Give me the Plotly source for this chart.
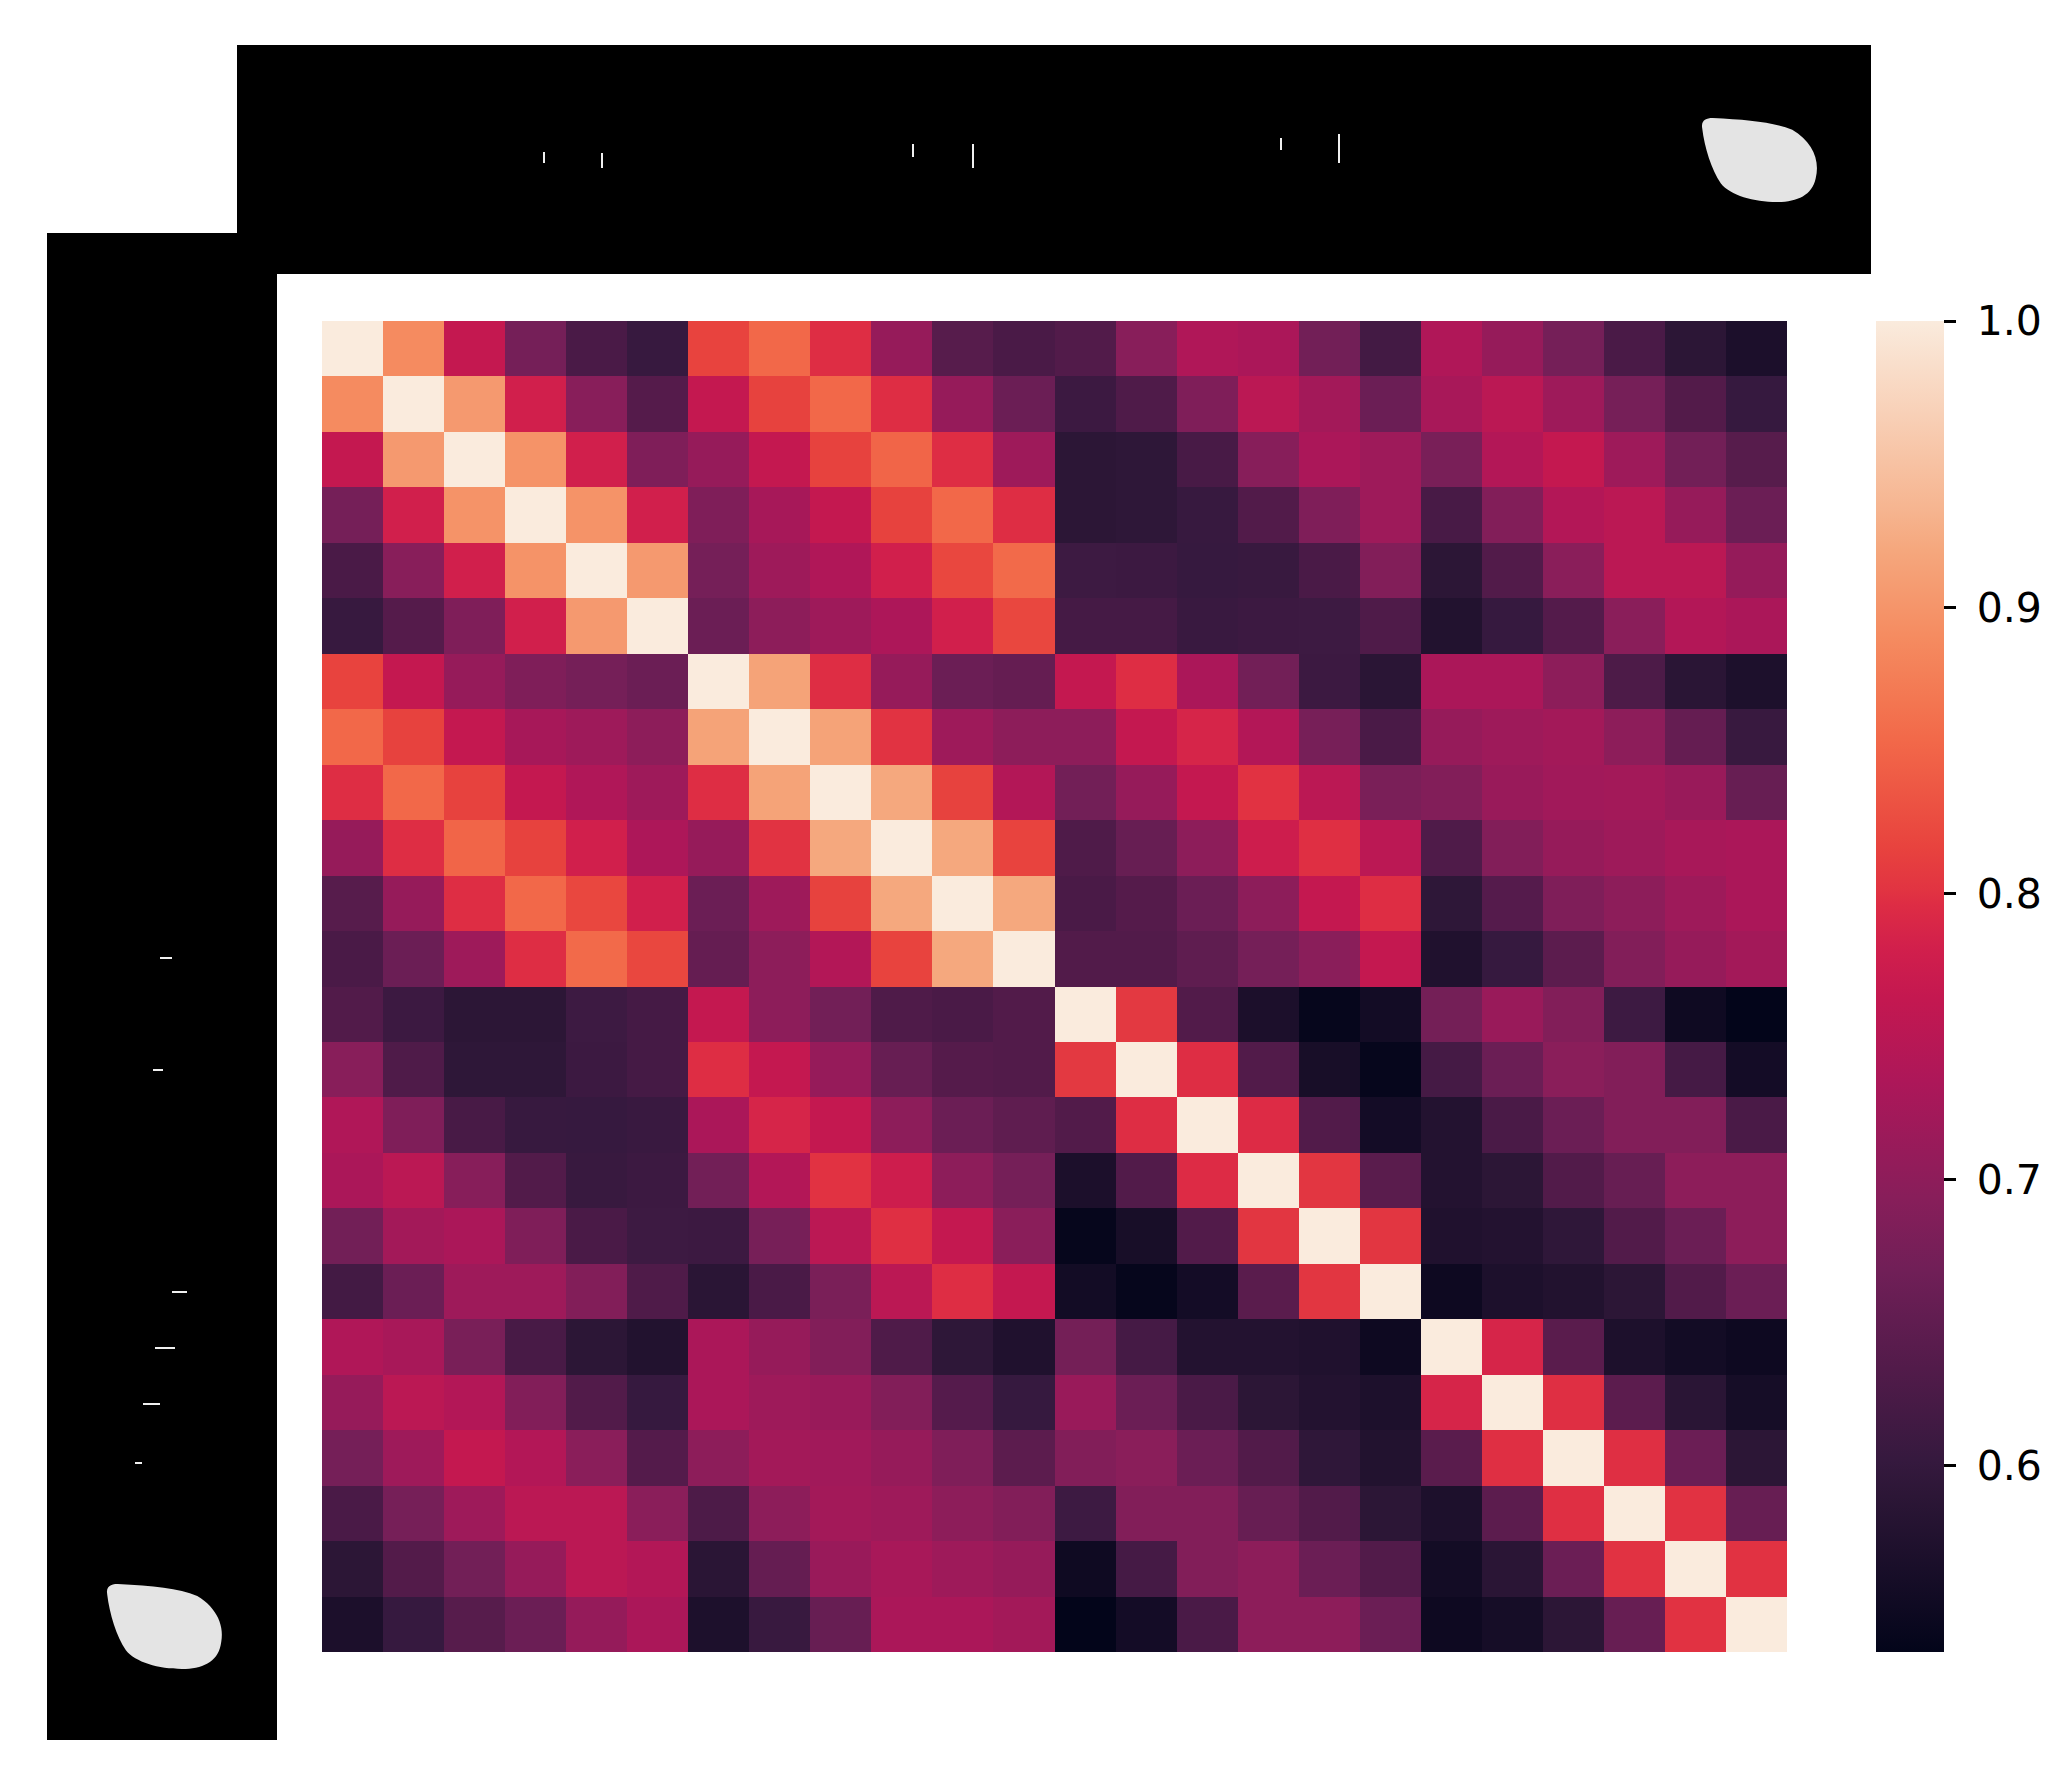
import numpy as np
import plotly.graph_objects as go

W, H = 2069, 1788

# Upper-triangle correlation values (row i, columns i+1 .. 23)
r00 = [0.889, 0.764, 0.673, 0.625, 0.604, 0.816, 0.853, 0.797, 0.709, 0.640, 0.625, 0.634, 0.694, 0.738, 0.732, 0.670, 0.617, 0.738, 0.709, 0.673, 0.625, 0.589, 0.568]
r01 = [0.905, 0.781, 0.694, 0.637, 0.764, 0.815, 0.853, 0.797, 0.709, 0.662, 0.609, 0.631, 0.684, 0.752, 0.724, 0.662, 0.729, 0.752, 0.718, 0.675, 0.635, 0.603]
r02 = [0.898, 0.781, 0.684, 0.709, 0.764, 0.815, 0.850, 0.797, 0.718, 0.589, 0.592, 0.623, 0.693, 0.732, 0.718, 0.678, 0.742, 0.764, 0.718, 0.670, 0.640]
r03 = [0.898, 0.781, 0.684, 0.728, 0.764, 0.815, 0.853, 0.797, 0.589, 0.592, 0.604, 0.634, 0.684, 0.718, 0.623, 0.687, 0.742, 0.752, 0.709, 0.662]
r04 = [0.905, 0.673, 0.718, 0.738, 0.781, 0.820, 0.855, 0.611, 0.609, 0.603, 0.605, 0.625, 0.687, 0.589, 0.634, 0.696, 0.752, 0.752, 0.708]
r05 = [0.662, 0.699, 0.718, 0.734, 0.781, 0.820, 0.620, 0.620, 0.606, 0.609, 0.611, 0.631, 0.576, 0.603, 0.636, 0.696, 0.742, 0.732]
r06 = [0.915, 0.797, 0.709, 0.662, 0.655, 0.764, 0.797, 0.732, 0.670, 0.609, 0.587, 0.732, 0.732, 0.699, 0.628, 0.587, 0.570]
r07 = [0.915, 0.801, 0.718, 0.699, 0.700, 0.764, 0.787, 0.742, 0.676, 0.625, 0.709, 0.718, 0.724, 0.700, 0.655, 0.605]
r08 = [0.921, 0.815, 0.742, 0.670, 0.709, 0.764, 0.800, 0.752, 0.679, 0.687, 0.713, 0.721, 0.724, 0.713, 0.658]
r09 = [0.921, 0.816, 0.631, 0.658, 0.700, 0.775, 0.798, 0.752, 0.631, 0.687, 0.709, 0.718, 0.729, 0.732]
r10 = [0.921, 0.625, 0.637, 0.662, 0.700, 0.764, 0.797, 0.592, 0.638, 0.684, 0.700, 0.718, 0.732]
r11 = [0.634, 0.634, 0.649, 0.673, 0.696, 0.764, 0.574, 0.603, 0.645, 0.687, 0.709, 0.724]
r12 = [0.806, 0.634, 0.568, 0.539, 0.556, 0.672, 0.713, 0.687, 0.611, 0.551, 0.535]
r13 = [0.797, 0.634, 0.563, 0.539, 0.620, 0.662, 0.696, 0.687, 0.620, 0.558]
r14 = [0.795, 0.634, 0.558, 0.578, 0.625, 0.662, 0.687, 0.687, 0.625]
r15 = [0.803, 0.643, 0.578, 0.589, 0.634, 0.658, 0.700, 0.700]
r16 = [0.803, 0.574, 0.578, 0.594, 0.634, 0.662, 0.700]
r17 = [0.549, 0.570, 0.576, 0.589, 0.634, 0.662]
r18 = [0.787, 0.643, 0.570, 0.556, 0.549]
r19 = [0.798, 0.645, 0.587, 0.560]
r20 = [0.798, 0.662, 0.589]
r21 = [0.800, 0.658]
r22 = [0.800]
upper_rows = [r00, r01, r02, r03, r04, r05, r06, r07, r08, r09, r10, r11,
              r12, r13, r14, r15, r16, r17, r18, r19, r20, r21, r22]

cbar_ticks = [0.6, 0.7, 0.8, 0.9, 1.0]
zmin, zmax = 0.535, 1.0

n = len(upper_rows) + 1
Z = np.eye(n)
for i, row in enumerate(upper_rows):
    for k, v in enumerate(row):
        j = i + 1 + k
        Z[i, j] = v
        Z[j, i] = v

rocket = [
    [0.0, "#03051a"], [0.117, "#2c1636"], [0.143, "#35193e"], [0.213, "#521b4a"],
    [0.286, "#701f57"], [0.342, "#881e5a"], [0.375, "#961b5a"], [0.429, "#ad1759"],
    [0.492, "#c41850"], [0.528, "#d11f4c"], [0.563, "#de2d44"], [0.571, "#e13342"],
    [0.605, "#e8433e"], [0.684, "#f26849"], [0.714, "#f37651"], [0.762, "#f58b60"],
    [0.83, "#f5a87e"], [0.857, "#f6b48f"], [1.0, "#faebdd"],
]

def px(x):
    return x / W

def py(y):
    return 1 - y / H

hm_l, hm_r, hm_t, hm_b = 322, 1787, 321, 1652

fig = go.Figure(go.Heatmap(
    z=Z, x=list(range(n)), y=list(range(n)),
    colorscale=rocket, zmin=zmin, zmax=zmax,
    colorbar=dict(
        x=px(1876), xanchor="left", y=py(hm_t), yanchor="top",
        xpad=0, ypad=0,
        thickness=68, thicknessmode="pixels", len=hm_b - hm_t, lenmode="pixels",
        outlinewidth=0, ticks="outside", ticklen=12, tickwidth=3, tickcolor="black",
        tickvals=cbar_ticks, ticktext=[f" {t:.1f}" for t in cbar_ticks],
        tickfont=dict(family="DejaVu Sans", size=41, color="black"),
    ),
    hoverinfo="skip",
))

shapes = []
# black panels
shapes.append(dict(type="rect", xref="paper", yref="paper", x0=px(237), x1=px(1871),
                   y0=py(274), y1=py(45), fillcolor="black", line=dict(width=0), layer="above"))
shapes.append(dict(type="rect", xref="paper", yref="paper", x0=px(47), x1=px(277),
                   y0=py(1740), y1=py(233), fillcolor="black", line=dict(width=0), layer="above"))

blob_tpl = [("M", [(0.01, 0.12)]),
            ("C", [(0.0, 0.03), (0.04, 0.0), (0.1, 0.0)]),
            ("C", [(0.4, 0.02), (0.62, 0.05), (0.78, 0.14)]),
            ("C", [(0.95, 0.28), (1.02, 0.5), (0.98, 0.72)]),
            ("C", [(0.95, 0.92), (0.82, 1.0), (0.65, 1.0)]),
            ("C", [(0.45, 1.0), (0.25, 0.92), (0.17, 0.78)]),
            ("C", [(0.09, 0.62), (0.03, 0.35), (0.01, 0.12)])]

def blob(x0, x1, y0, y1):
    parts = []
    for cmd, pts in blob_tpl:
        s = " ".join(f"{px(x0 + a * (x1 - x0)):.5f},{py(y0 + b * (y1 - y0)):.5f}" for a, b in pts)
        parts.append(f"{cmd} {s}")
    return " ".join(parts) + " Z"

for bb in [(1701, 1818, 118, 202), (106, 223, 1584, 1669)]:
    shapes.append(dict(type="path", xref="paper", yref="paper", path=blob(*bb),
                       fillcolor="#e4e4e4", line=dict(width=0), layer="above"))

# small light slivers inside the panels
for x, ya, yb in [(544, 152, 163), (602, 153, 168), (913, 144, 157), (973, 144, 168),
                  (1281, 138, 150), (1339, 134, 163)]:
    shapes.append(dict(type="line", xref="paper", yref="paper", x0=px(x), x1=px(x),
                       y0=py(ya), y1=py(yb), line=dict(color="#f0f0f0", width=2), layer="above"))
for xa, xb, y in [(160, 172, 958), (153, 163, 1070), (172, 187, 1292), (155, 175, 1348),
                  (143, 160, 1404), (135, 142, 1463)]:
    shapes.append(dict(type="line", xref="paper", yref="paper", x0=px(xa), x1=px(xb),
                       y0=py(y), y1=py(y), line=dict(color="#f0f0f0", width=2), layer="above"))

fig.update_layout(
    width=W, height=H, margin=dict(l=0, r=0, t=0, b=0),
    paper_bgcolor="white", plot_bgcolor="white",
    xaxis=dict(domain=[px(hm_l), px(hm_r)], range=[-0.5, n - 0.5], showticklabels=False,
               showgrid=False, zeroline=False, ticks="", showline=False),
    yaxis=dict(domain=[py(hm_b), py(hm_t)], range=[n - 0.5, -0.5], showticklabels=False,
               showgrid=False, zeroline=False, ticks="", showline=False),
    shapes=shapes,
    font=dict(family="DejaVu Sans"),
)

fig.write_html("out.html")
